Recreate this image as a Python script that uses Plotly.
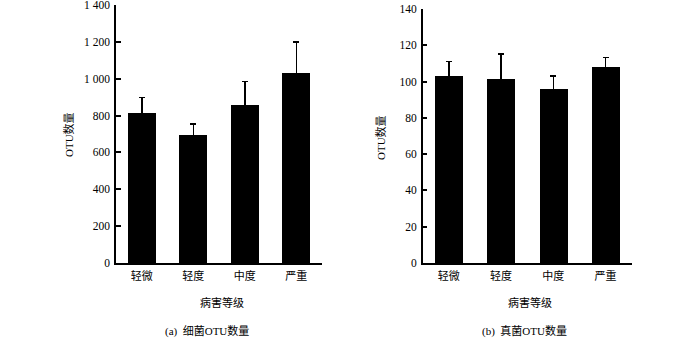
import plotly.graph_objects as go

categories = ["轻微", "轻度", "中度", "严重"]
bacteria_mean = [816, 695, 857, 1033]
bacteria_err = [81, 58, 127, 166]
fungi_mean = [103.1, 101.4, 96.1, 108.0]
fungi_err = [8.1, 13.8, 7.0, 5.4]

bact_ticks = [0, 200, 400, 600, 800, 1000, 1200, 1400]
bact_ticktext = ["0", "200", "400", "600", "800", "1 000", "1 200", "1 400"]
fungi_ticks = [0, 20, 40, 60, 80, 100, 120, 140]

x_title = "病害等级"
y_title = "OTU数量"
captions = ["(a)  细菌OTU数量", "(b)  真菌OTU数量"]

W, H = 700, 340
FONT = "Liberation Serif, Noto Sans CJK SC, serif"

fig = go.Figure()

def px_x(v):
    return v / W

def px_y(v):
    return (H - v) / H

idx = list(range(len(categories)))

fig.add_trace(go.Bar(
    x=idx, y=bacteria_mean, width=0.54, marker=dict(color="black", line=dict(width=0)),
    error_y=dict(type="data", array=bacteria_err, symmetric=True,
                 color="black", thickness=1.5, width=3),
    xaxis="x", yaxis="y", showlegend=False))
fig.add_trace(go.Bar(
    x=idx, y=fungi_mean, width=0.54, marker=dict(color="black", line=dict(width=0)),
    error_y=dict(type="data", array=fungi_err, symmetric=True,
                 color="black", thickness=1.5, width=3),
    xaxis="x2", yaxis="y2", showlegend=False))

xcommon = dict(range=[-0.5, 3.5], tickvals=idx, ticktext=categories, showline=True,
               linecolor="black", linewidth=1.5, ticks="", showgrid=False, zeroline=False,
               automargin=False, ticklabelstandoff=2, ticklabeloverflow="allow",
               tickfont=dict(family="Noto Sans CJK SC", size=11, color="black"), fixedrange=True)
ycommon = dict(showline=True, linecolor="black", linewidth=1.5, ticks="inside", ticklen=5,
               tickwidth=1.5, tickcolor="black", showgrid=False, zeroline=False,
               automargin=False, ticklabeloverflow="allow",
               tickfont=dict(family=FONT, size=11.5, color="black"), ticklabelstandoff=2)

fig.update_layout(
    width=W, height=H, margin=dict(l=0, r=0, t=0, b=0, autoexpand=False),
    paper_bgcolor="white", plot_bgcolor="white",
    bargap=0,
    xaxis=dict(domain=[px_x(116), px_x(322)], anchor="y", **xcommon),
    yaxis=dict(domain=[px_y(263), px_y(5)], anchor="x", range=[0, 1400],
               tickvals=bact_ticks, ticktext=bact_ticktext, **ycommon),
    xaxis2=dict(domain=[px_x(422.7), px_x(631.7)], anchor="y2", **xcommon),
    yaxis2=dict(domain=[px_y(263), px_y(9)], anchor="x2", range=[0, 140],
                tickvals=fungi_ticks, **ycommon),
)

ann = []
for cx, capx, ytx, yty, cap in [(222, 207, 69, 135, captions[0]), (530, 524, 381, 138, captions[1])]:
    ann.append(dict(x=px_x(cx), y=px_y(302), xref="paper", yref="paper", text=x_title,
                    showarrow=False, xanchor="center", yanchor="middle",
                    font=dict(family="Noto Sans CJK SC", size=11, color="black")))
    ann.append(dict(x=px_x(capx), y=px_y(331), xref="paper", yref="paper", text=cap,
                    showarrow=False, xanchor="center", yanchor="middle",
                    font=dict(family=FONT, size=11, color="black")))
    ann.append(dict(x=px_x(ytx), y=px_y(yty), xref="paper", yref="paper", text=y_title,
                    showarrow=False, xanchor="center", yanchor="middle", textangle=-90,
                    font=dict(family=FONT, size=11, color="black")))
fig.update_layout(annotations=ann)

fig.write_html("out.html")
